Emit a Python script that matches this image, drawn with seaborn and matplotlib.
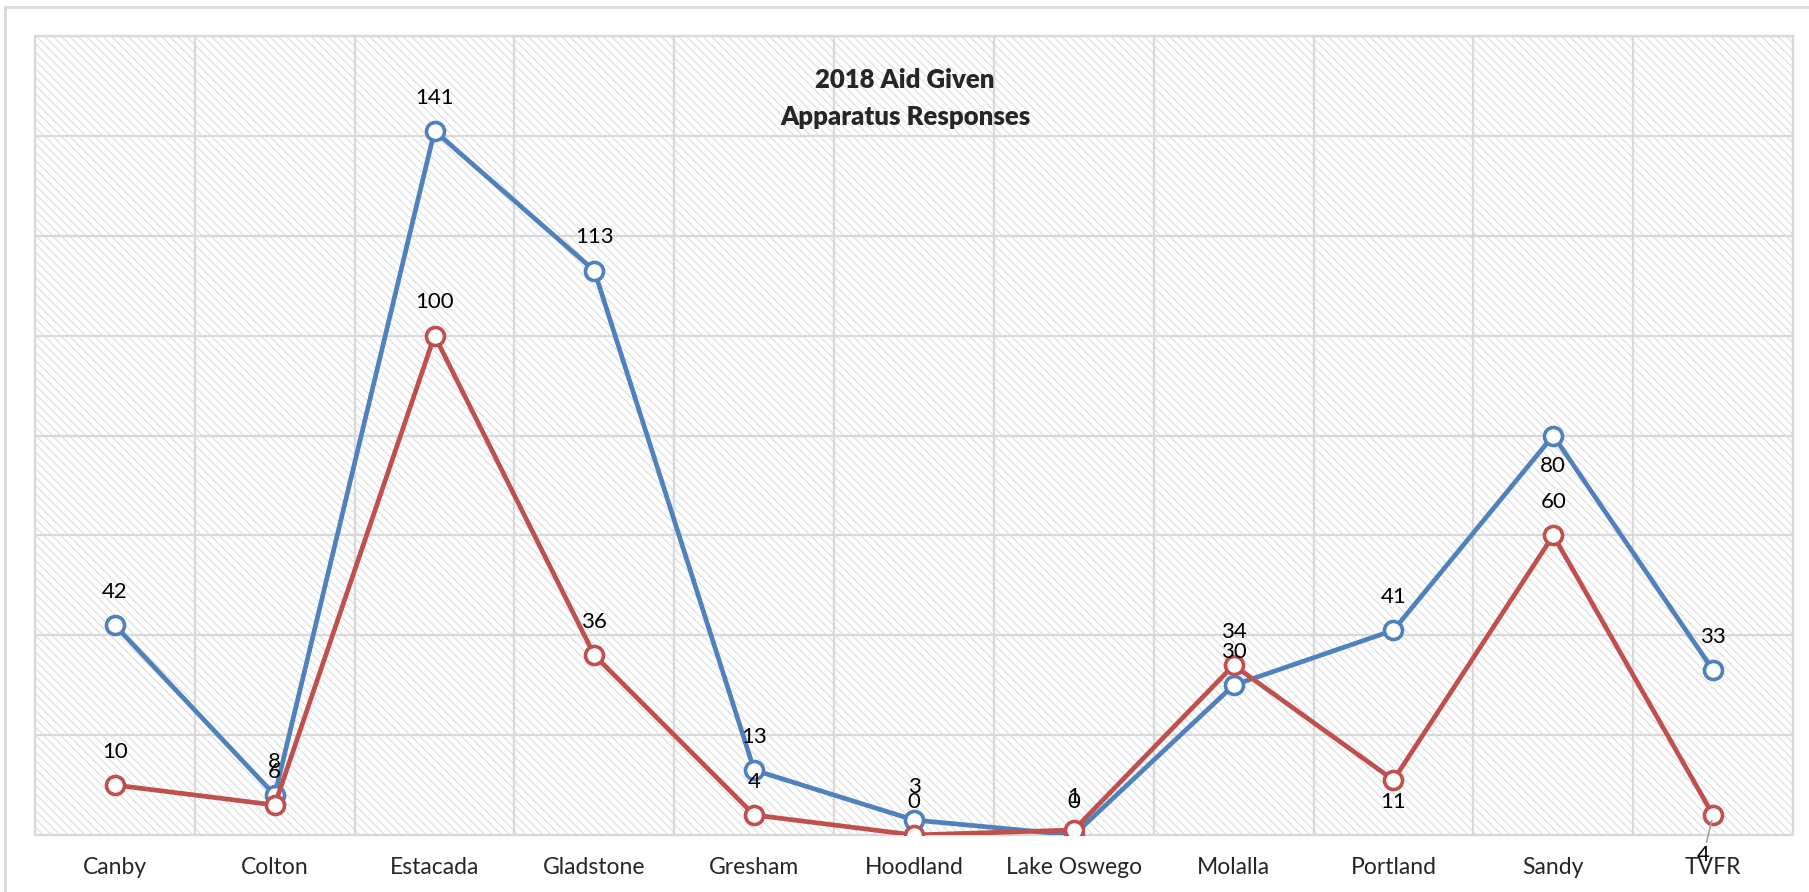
import matplotlib
matplotlib.use("Agg")
import matplotlib.pyplot as plt
from matplotlib.lines import Line2D
from matplotlib.patches import Rectangle
import seaborn as sns
import pandas as pd

# Departments receiving aid, in axis order
departments = ["Canby", "Colton", "Estacada", "Gladstone", "Gresham", "Hoodland",
               "Lake Oswego", "Molalla", "Portland", "Sandy", "TVFR"]
series_1 = [42, 8, 141, 113, 13, 3, 0, 30, 41, 80, 33]
series_2 = [10, 6, 100, 36, 4, 0, 1, 34, 11, 60, 4]
title_lines = ["2018 Aid Given", "Apparatus Responses"]

BLUE = "#4F81BD"
RED = "#C0504D"
GRID = "#d9d9d9"

sns.set_theme(style="white")
plt.rcParams["font.family"] = ["Lato", "DejaVu Sans"]
plt.rcParams["hatch.linewidth"] = 0.9

df = pd.DataFrame({
    "department": departments * 2,
    "count": series_1 + series_2,
    "series": ["Series 1"] * len(departments) + ["Series 2"] * len(departments),
})

fig = plt.figure(figsize=(18.09, 8.92), dpi=100)
ax = fig.add_axes([35 / 1809, 57 / 892, 1758 / 1809, 799 / 892])

# Diagonal-hatched plot background
ax.add_patch(Rectangle((0, 0), 1, 1, transform=ax.transAxes, facecolor="white",
                       edgecolor="#e0e0e0", linewidth=0, hatch="\\\\\\\\", zorder=0))

sns.lineplot(data=df, x="department", y="count", hue="series",
             palette={"Series 1": BLUE, "Series 2": RED}, hue_order=["Series 1", "Series 2"],
             sort=False, legend=False, ax=ax, linewidth=3.4,
             marker="o", markersize=13, markerfacecolor="white", markeredgewidth=2.6,
             zorder=3)
# marker edges follow the line colour
for line, col in zip(ax.get_lines(), [BLUE, RED]):
    line.set_markeredgecolor(col)

ax.set_xlim(-0.5, len(departments) - 0.5)
ax.set_ylim(0, 160)
ax.set_yticks(range(0, 161, 20))
ax.set_yticklabels([])
ax.set_xticks(range(len(departments)))
ax.set_xticklabels(departments, fontsize=16.5)
ax.set_xticks([i - 0.5 for i in range(len(departments) + 1)], minor=True)
ax.tick_params(axis="both", which="both", length=0)
ax.tick_params(axis="x", pad=16)
ax.set_xlabel("")
ax.set_ylabel("")
ax.grid(True, which="major", axis="y", color=GRID, linewidth=1.6, zorder=1)
ax.grid(True, which="minor", axis="x", color=GRID, linewidth=1.6, zorder=1)
ax.grid(False, which="major", axis="x")
ax.set_axisbelow(True)
for sp in ax.spines.values():
    sp.set_color(GRID)
    sp.set_linewidth(1.6)

# Data labels
above = 24
offsets_1 = {i: (0, above) for i in range(len(departments))}
offsets_2 = {i: (0, above) for i in range(len(departments))}
offsets_1[9] = (0, -22)   # Sandy
offsets_2[8] = (0, -16)   # Portland

for i, v in enumerate(series_1):
    ax.annotate(str(v), (i, v), xytext=offsets_1[i], textcoords="offset points",
                ha="center", va="center", fontsize=16, color="black", zorder=5)
for i, v in enumerate(series_2):
    if i == 10:
        ax.annotate(str(v), (i, v), xytext=(-7, -29), textcoords="offset points",
                    ha="center", va="center", fontsize=16, color="black", zorder=5,
                    arrowprops=dict(arrowstyle="-", color="#a0a0a0", lw=1.2,
                                    shrinkA=0, shrinkB=4),
                    annotation_clip=False)
    else:
        ax.annotate(str(v), (i, v), xytext=offsets_2[i], textcoords="offset points",
                    ha="center", va="center", fontsize=16, color="black", zorder=5)

# Two-line chart title inside the plot area
ax.text(0.495, (835 - 80) / 799, title_lines[0], transform=ax.transAxes,
        ha="center", va="center", fontsize=18.5, fontweight="heavy", zorder=6)
ax.text(0.495, (835 - 117) / 799, title_lines[1], transform=ax.transAxes,
        ha="center", va="center", fontsize=18.5, fontweight="heavy", zorder=6)

# Chart-area border (top and left edges)
fig.add_artist(Line2D([5 / 1809, 1.0], [1 - 7 / 892, 1 - 7 / 892],
                      transform=fig.transFigure, color=GRID, linewidth=2))
fig.add_artist(Line2D([5 / 1809, 5 / 1809], [0.0, 1 - 7 / 892],
                      transform=fig.transFigure, color=GRID, linewidth=2))

fig.savefig("out.png", dpi=100, facecolor="white")
